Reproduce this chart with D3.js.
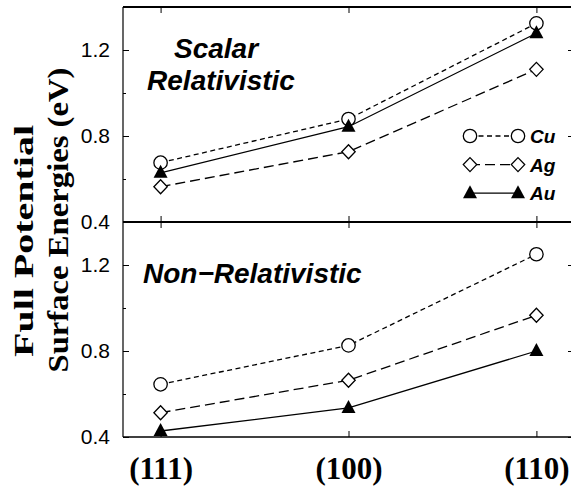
<!DOCTYPE html>
<html>
<head>
<meta charset="utf-8">
<script src="https://cdn.jsdelivr.net/npm/d3@7"></script>
<style>
  body { margin: 0; background: #fff; overflow: hidden; }
  svg { display: block; }
</style>
</head>
<body>
<svg id="chart" width="571" height="491"></svg>
<script>
// facets and the values
var categories = ["(111)", "(100)", "(110)"];
var scalarCu = [0.676, 0.879, 1.324];
var scalarAg = [0.564, 0.727, 1.110];
var scalarAu = [0.629, 0.843, 1.278];
var nonrelCu = [0.645, 0.826, 1.250];
var nonrelAg = [0.513, 0.664, 0.966];
var nonrelAu = [0.428, 0.535, 0.800];
var majorTicks = [0.4, 0.8, 1.2];
var minorTicks = [0.6, 1.0];
var seriesNames = ["Cu", "Ag", "Au"];

function main() {
  var svg = d3.select("#chart");
  var left = 123, right = 574, top = 7, mid = 222, bottom = 437;
  var tickX = 574; // right ticks hang in from just past the edge

  var x = d3.scalePoint().domain(categories).range([left, right]).padding(0.2);
  var yTop = d3.scaleLinear().domain([0.4, 1.4]).range([mid, top]);
  var yBot = d3.scaleLinear().domain([0.4, 1.4]).range([bottom, mid]);

  var dashes = { Cu: "5,3.5", Ag: "10,5", Au: null };

  var tri = "M0,-8L7,5L-7,5Z";
  function marker(sel, name) {
    if (name === "Cu") {
      sel.append("circle").attr("r", 6.7).attr("fill", "#fff").attr("stroke", "#000").attr("stroke-width", 1.3);
    } else if (name === "Ag") {
      sel.append("path").attr("d", "M0,-7L6.7,0L0,7L-6.7,0Z").attr("fill", "#fff").attr("stroke", "#000").attr("stroke-width", 1.3);
    } else {
      sel.append("path").attr("d", tri).attr("fill", "#000");
    }
  }

  function ticksOnly(t) {
    t.select(".domain").remove();
    t.selectAll(".tick line").attr("stroke", "#000");
  }

  function panel(y, data) {
    var g = svg.append("g");

    // ticks, all pointing inward
    var ax = [
      [d3.axisLeft(y).tickValues(majorTicks).tickSizeInner(-6).tickSizeOuter(0).tickPadding(13), left],
      [d3.axisLeft(y).tickValues(minorTicks).tickSizeInner(-3).tickSizeOuter(0).tickFormat(""), left],
      [d3.axisRight(y).tickValues(majorTicks).tickSizeInner(-6).tickSizeOuter(0).tickFormat(""), tickX],
      [d3.axisRight(y).tickValues(minorTicks).tickSizeInner(-3).tickSizeOuter(0).tickFormat(""), tickX]
    ];
    ax.forEach(function(a) {
      var t = g.append("g").attr("transform", "translate(" + a[1] + ",0)").call(a[0]);
      ticksOnly(t);
      t.selectAll("text").attr("font-family", "Liberation Sans, Arial, sans-serif").attr("font-size", 21).attr("fill", "#000");
    });
    ticksOnly(g.append("g").attr("transform", "translate(0," + y.range()[1] + ")")
      .call(d3.axisTop(x).tickSizeInner(-6).tickSizeOuter(0).tickFormat("")));
    ticksOnly(g.append("g").attr("transform", "translate(0," + y.range()[0] + ")")
      .call(d3.axisBottom(x).tickSizeInner(-6).tickSizeOuter(0).tickFormat("")));

    seriesNames.forEach(function(name, i) {
      var line = d3.line().x(function(d, j) { return x(categories[j]); }).y(function(d) { return y(d); });
      g.append("path").datum(data[i]).attr("d", line).attr("fill", "none")
        .attr("stroke", "#000").attr("stroke-width", 1.3)
        .attr("stroke-dasharray", dashes[name]);
    });
    seriesNames.forEach(function(name, i) {
      data[i].forEach(function(v, j) {
        var m = g.append("g").attr("transform", "translate(" + x(categories[j]) + "," + y(v) + ")");
        marker(m, name);
      });
    });
  }

  panel(yTop, [scalarCu, scalarAg, scalarAu]);
  panel(yBot, [nonrelCu, nonrelAg, nonrelAu]);

  // frame (right side falls outside the picture)
  svg.append("line").attr("x1", left).attr("x2", left).attr("y1", top).attr("y2", bottom).attr("stroke", "#000").attr("stroke-width", 1.2);
  svg.append("line").attr("x1", left).attr("x2", 571).attr("y1", top).attr("y2", top).attr("stroke", "#000").attr("stroke-width", 2);
  svg.append("line").attr("x1", left).attr("x2", 571).attr("y1", mid).attr("y2", mid).attr("stroke", "#000").attr("stroke-width", 2);
  svg.append("line").attr("x1", left).attr("x2", 571).attr("y1", bottom).attr("y2", bottom).attr("stroke", "#000").attr("stroke-width", 1.5);

  // x labels
  var xa = svg.append("g").attr("transform", "translate(0," + bottom + ")")
    .call(d3.axisBottom(x).tickSize(0).tickPadding(20));
  xa.select(".domain").remove();
  xa.selectAll("text").attr("font-family", "Liberation Serif, Times New Roman, serif")
    .attr("font-weight", "bold").attr("font-size", 31).attr("fill", "#000");

  // panel titles
  var tf = "Liberation Sans, Arial, sans-serif";
  svg.append("text").attr("x", 216).attr("y", 58).attr("text-anchor", "middle")
    .attr("font-family", tf).attr("font-weight", "bold").attr("font-style", "italic").attr("font-size", 28)
    .text("Scalar");
  svg.append("text").attr("x", 221).attr("y", 90).attr("text-anchor", "middle")
    .attr("font-family", tf).attr("font-weight", "bold").attr("font-style", "italic").attr("font-size", 28)
    .text("Relativistic");
  svg.append("text").attr("x", 143).attr("y", 283)
    .attr("font-family", tf).attr("font-weight", "bold").attr("font-style", "italic").attr("font-size", 28)
    .text("Non\u2212Relativistic");

  // legend
  var lg = svg.append("g");
  seriesNames.forEach(function(name, i) {
    var ly = 136 + i * 28.6;
    lg.append("line").attr("x1", 470).attr("x2", 518).attr("y1", ly).attr("y2", ly)
      .attr("stroke", "#000").attr("stroke-width", 1.3).attr("stroke-dasharray", dashes[name]);
    [470, 518].forEach(function(lx) {
      marker(lg.append("g").attr("transform", "translate(" + lx + "," + ly + ")"), name);
    });
    lg.append("text").attr("x", 530).attr("y", ly + 7)
      .attr("font-family", tf).attr("font-weight", "bold").attr("font-style", "italic").attr("font-size", 19)
      .text(name);
  });

  // y title
  var sf = "Liberation Serif, Times New Roman, serif";
  svg.append("text").attr("transform", "translate(33,241) rotate(-90)").attr("text-anchor", "middle")
    .attr("font-family", sf).attr("font-weight", "bold").attr("font-size", 28)
    .attr("textLength", 232).attr("lengthAdjust", "spacingAndGlyphs")
    .text("Full Potential");
  svg.append("text").attr("transform", "translate(68,220) rotate(-90)").attr("text-anchor", "middle")
    .attr("font-family", sf).attr("font-weight", "bold").attr("font-size", 30)
    .attr("textLength", 305).attr("lengthAdjust", "spacingAndGlyphs")
    .text("Surface Energies (eV)");
}
main();
</script>
</body>
</html>
